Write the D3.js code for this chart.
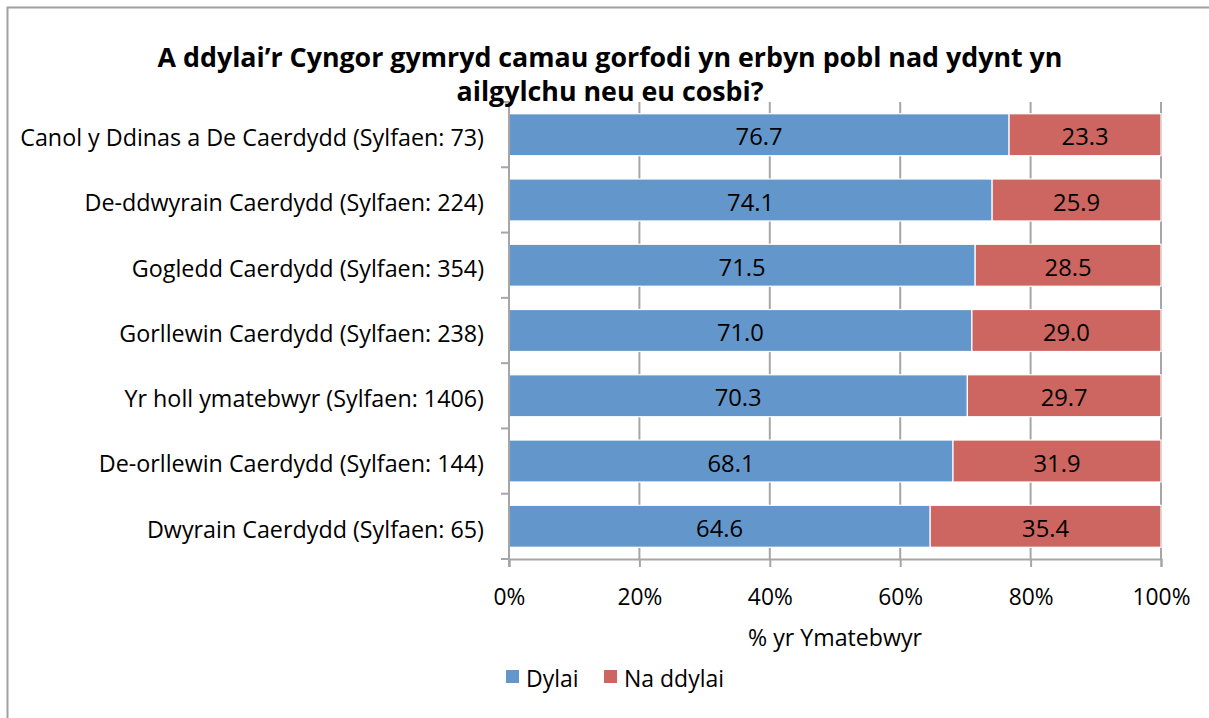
<!DOCTYPE html>
<html>
<head>
<meta charset="utf-8">
<script src="https://cdn.jsdelivr.net/npm/d3@7"></script>
<style>
  body { margin: 0; background: #fff; }
  text { font-family: "Open Sans", Lato, sans-serif; }
</style>
</head>
<body>
<figure id="chart" style="margin:0"></figure>
<script>
const categories = [
  "Canol y Ddinas a De Caerdydd (Sylfaen: 73)",
  "De-ddwyrain Caerdydd (Sylfaen: 224)",
  "Gogledd Caerdydd (Sylfaen: 354)",
  "Gorllewin Caerdydd (Sylfaen: 238)",
  "Yr holl ymatebwyr (Sylfaen: 1406)",
  "De-orllewin Caerdydd (Sylfaen: 144)",
  "Dwyrain Caerdydd (Sylfaen: 65)"
];
const dylai = [76.7, 74.1, 71.5, 71.0, 70.3, 68.1, 64.6];
const naDdylai = [23.3, 25.9, 28.5, 29.0, 29.7, 31.9, 35.4];
const seriesNames = ["Dylai", "Na ddylai"];
const seriesColors = ["#6397cb", "#cd6560"];
const xTicks = [0, 20, 40, 60, 80, 100];

const width = 1209, height = 718;
const margin = {top: 102, right: 48, bottom: 159, left: 509};

const svg = d3.select("#chart").append("svg")
    .attr("width", width)
    .attr("height", height);

// scale a group's font so one sample text gets the wanted width (Calibri stand-in)
function fit(sel, sampleNode, target) {
  const base = parseFloat(sampleNode.getAttribute("font-size"));
  const w = sampleNode.getComputedTextLength();
  const size = base * target / w;
  sel.attr("font-size", size.toFixed(2));
}

// outer chart border
svg.append("rect")
    .attr("x", 7.5).attr("y", 7.5)
    .attr("width", width + 20).attr("height", height + 20)
    .attr("fill", "none")
    .attr("stroke", "#a0a0a0")
    .attr("stroke-width", 2);

const x = d3.scaleLinear().domain([0, 100]).range([margin.left, width - margin.right]);
const y = d3.scaleBand().domain(categories).range([margin.top, height - margin.bottom]).paddingInner(0.357).paddingOuter(0.18);

const rows = categories.map((c, i) => ({cat: c, values: [dylai[i], naDdylai[i]]}));
const stacked = d3.stack().keys([0, 1]).value((d, k) => d.values[k])(rows);

// gridlines
svg.append("g")
  .selectAll("line")
  .data(xTicks.slice(1))
  .join("line")
    .attr("x1", d => x(d)).attr("x2", d => x(d))
    .attr("y1", margin.top).attr("y2", height - margin.bottom)
    .attr("stroke", "#a6a6a6")
    .attr("stroke-width", 2);

// bars
svg.append("g")
  .selectAll("g")
  .data(stacked)
  .join("g")
    .attr("fill", (d, i) => seriesColors[i])
  .selectAll("rect")
  .data(d => d)
  .join("rect")
    .attr("x", d => x(d[0]))
    .attr("y", d => y(d.data.cat))
    .attr("width", d => x(d[1]) - x(d[0]))
    .attr("height", y.bandwidth())
    .attr("stroke", "#fff")
    .attr("stroke-width", 1.2);

// data labels
const dataLabels = svg.append("g")
  .selectAll("g")
  .data(stacked)
  .join("g")
  .selectAll("text")
  .data(d => d)
  .join("text")
    .attr("x", d => (x(d[0]) + x(d[1])) / 2)
    .attr("y", d => y(d.data.cat) + y.bandwidth() / 2 + 2)
    .attr("dy", "0.36em")
    .attr("text-anchor", "middle")
    .attr("font-size", 20)
    .attr("fill", "#000")
    .text(d => (d[1] - d[0]).toFixed(1));
fit(dataLabels, dataLabels.nodes()[13], 47);

// x axis
const xAxis = svg.append("g")
    .attr("transform", `translate(0,${height - margin.bottom})`)
    .call(d3.axisBottom(x).tickValues(xTicks).tickFormat(d => d + "%").tickSize(8).tickPadding(22));
xAxis.select(".domain").attr("stroke", "#a6a6a6").attr("stroke-width", 2);
xAxis.selectAll(".tick line").attr("stroke", "#a6a6a6").attr("stroke-width", 2);
const tickText = xAxis.selectAll(".tick text").attr("font-size", 20).attr("fill", "#000")
    .attr("font-family", "'Open Sans', sans-serif");
fit(tickText, tickText.nodes()[5], 58);

// y axis
const yAxisG = svg.append("g");
yAxisG.append("line")
    .attr("x1", margin.left).attr("x2", margin.left)
    .attr("y1", margin.top).attr("y2", height - margin.bottom + 8)
    .attr("stroke", "#a6a6a6").attr("stroke-width", 2);
yAxisG.selectAll("line.tk")
  .data(d3.range(categories.length + 1))
  .join("line")
    .attr("class", "tk")
    .attr("x1", margin.left - 8).attr("x2", margin.left)
    .attr("y1", i => margin.top + i * (height - margin.top - margin.bottom) / categories.length)
    .attr("y2", i => margin.top + i * (height - margin.top - margin.bottom) / categories.length)
    .attr("stroke", "#a6a6a6").attr("stroke-width", 2);
const catLabels = yAxisG.selectAll("text")
  .data(categories)
  .join("text")
    .attr("x", 484)
    .attr("y", d => y(d) + y.bandwidth() / 2 + 3)
    .attr("dy", "0.36em")
    .attr("text-anchor", "end")
    .attr("font-size", 20)
    .attr("fill", "#000")
    .text(d => d);
fit(catLabels, catLabels.nodes()[0], 464);

// title
const title = svg.append("text")
    .attr("x", 610)
    .attr("text-anchor", "middle")
    .attr("font-size", 24)
    .attr("font-weight", "bold")
    .attr("fill", "#000");
const t1 = title.append("tspan").attr("x", 610).attr("y", 67).text("A ddylai\u2019r Cyngor gymryd camau gorfodi yn erbyn pobl nad ydynt yn");
title.append("tspan").attr("x", 610).attr("y", 101).text("ailgylchu neu eu cosbi?");
fit(title, title.node(), 905 * title.node().getComputedTextLength() / t1.node().getComputedTextLength());

// axis title
const axisTitle = svg.append("text")
    .attr("x", (x(0) + x(100)) / 2)
    .attr("y", 646)
    .attr("text-anchor", "middle")
    .attr("font-size", 20)
    .attr("fill", "#000")
    .text("% yr Ymatebwyr");
fit(axisTitle, axisTitle.node(), 174);

// legend
const legendX = [506, 604];
const legend = svg.append("g")
  .selectAll("g")
  .data(seriesNames)
  .join("g")
    .attr("transform", (d, i) => `translate(${legendX[i]},670)`);
legend.append("rect")
    .attr("width", 13).attr("height", 13)
    .attr("fill", (d, i) => seriesColors[i]);
const legendText = legend.append("text")
    .attr("x", 20).attr("y", 17)
    .attr("font-size", 20)
    .attr("fill", "#000")
    .text(d => d);
fit(legendText, legendText.nodes()[1], 100);
</script>
</body>
</html>
